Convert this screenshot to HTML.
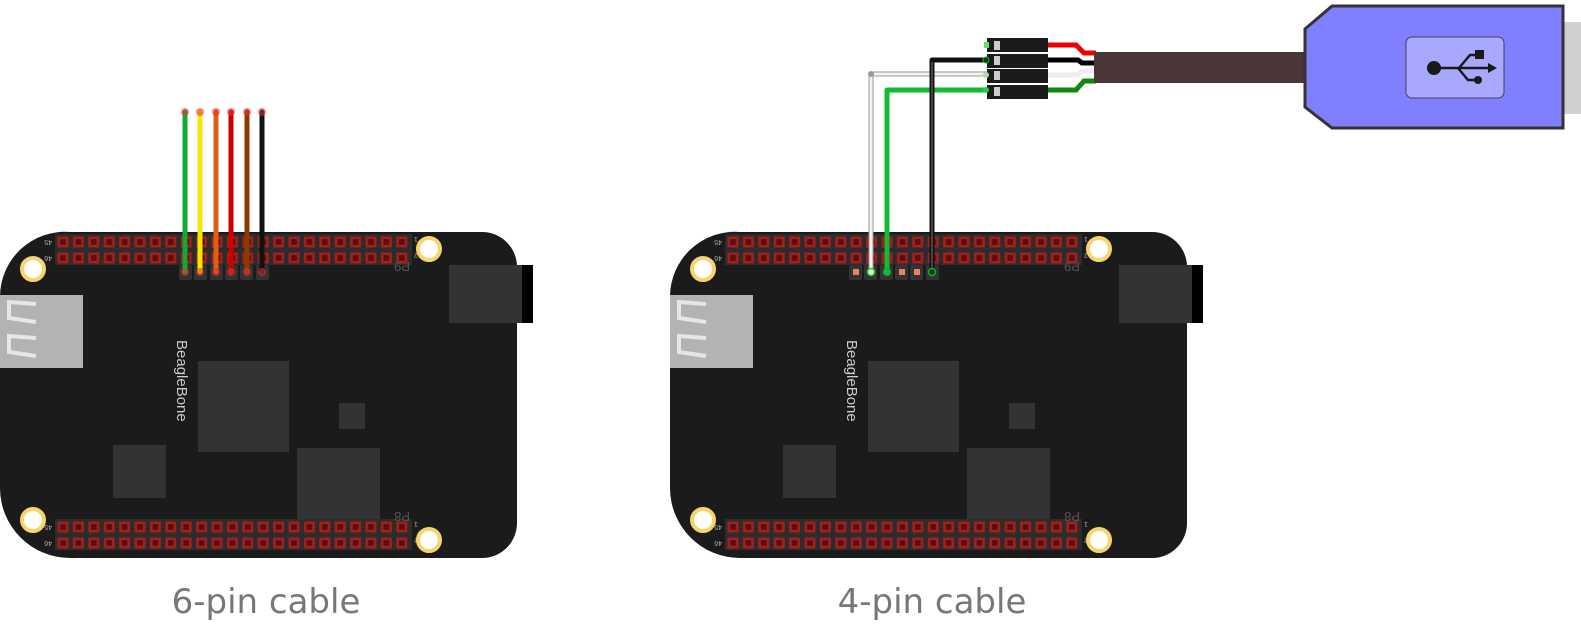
<!DOCTYPE html>
<html><head><meta charset="utf-8"><style>
html,body{margin:0;padding:0;background:#fff;width:1581px;height:641px;overflow:hidden}
svg{display:block}
</style></head><body>
<svg width="1581" height="641" viewBox="0 0 1581 641" xmlns="http://www.w3.org/2000/svg">
<defs>
<g id="pin"><rect x="-5.5" y="-5.5" width="11" height="11" fill="#a02020"/><rect x="-2.8" y="-2.8" width="5.6" height="5.6" fill="#5a0e0e"/></g>
<g id="row">
  <use href="#pin" x="63"/><use href="#pin" x="78.4"/><use href="#pin" x="93.8"/><use href="#pin" x="109.2"/><use href="#pin" x="124.6"/><use href="#pin" x="140"/><use href="#pin" x="155.4"/><use href="#pin" x="170.8"/><use href="#pin" x="186.2"/><use href="#pin" x="201.6"/><use href="#pin" x="217"/><use href="#pin" x="232.4"/><use href="#pin" x="247.8"/><use href="#pin" x="263.2"/><use href="#pin" x="278.6"/><use href="#pin" x="294"/><use href="#pin" x="309.4"/><use href="#pin" x="324.8"/><use href="#pin" x="340.2"/><use href="#pin" x="355.6"/><use href="#pin" x="371"/><use href="#pin" x="386.4"/><use href="#pin" x="401.8"/>
</g>
<g id="board">
  <rect x="522" y="265" width="11" height="58" fill="#000"/>
  <path d="M70,232 H482 A35,35 0 0 1 517,267 V523 A35,35 0 0 1 482,558 H70 A70,70 0 0 1 0,488 V297 A65,65 0 0 1 70,232 Z" fill="#1b1b1b"/>
  <rect x="449" y="265" width="73" height="58" fill="#333"/>
  <rect x="0" y="295" width="83" height="73" fill="#b3b3b3"/>
  <path d="M36,304 L9,302 L9,318 L36,322" fill="none" stroke="#e6e6e6" stroke-width="4"/>
  <path d="M36,338 L9,336 L9,352 L36,356" fill="none" stroke="#e6e6e6" stroke-width="4"/>
  <rect x="198" y="361" width="91" height="91" fill="#333"/>
  <rect x="339" y="403" width="26" height="26" fill="#333"/>
  <rect x="113" y="445" width="53" height="53" fill="#333"/>
  <rect x="297" y="448" width="83" height="71" fill="#333"/>
  <text transform="translate(177,340) rotate(90)" font-family="Liberation Sans, sans-serif" font-size="15" fill="#ccc">BeagleBone</text>
  <rect x="55" y="234" width="357" height="31" fill="#2c2c2c"/>
  <rect x="55" y="519" width="357" height="31" fill="#2c2c2c"/>
  <use href="#row" y="242"/><use href="#row" y="258"/>
  <use href="#row" y="527"/><use href="#row" y="543"/>
  <g font-family="Liberation Sans, sans-serif" font-size="7" fill="#aaa">
    <text transform="translate(52,240) rotate(180)">45</text>
    <text transform="translate(52,256) rotate(180)">46</text>
    <text transform="translate(52,525) rotate(180)">45</text>
    <text transform="translate(52,541) rotate(180)">46</text>
    <text transform="translate(414,237) rotate(180)" text-anchor="end">1</text>
    <text transform="translate(414,253) rotate(180)" text-anchor="end">2</text>
    <text transform="translate(414,522) rotate(180)" text-anchor="end">1</text>
    <text transform="translate(414,538) rotate(180)" text-anchor="end">2</text>
  </g>
  <text transform="translate(410,262) rotate(180)" font-family="Liberation Sans, sans-serif" font-size="13" fill="#555">P9</text>
  <text transform="translate(410,512) rotate(180)" font-family="Liberation Sans, sans-serif" font-size="13" fill="#555">P8</text>
  <g fill="#fff" stroke="#f7d56c" stroke-width="4">
    <circle cx="33" cy="269" r="11"/><circle cx="429" cy="249" r="11"/>
    <circle cx="33" cy="520" r="11"/><circle cx="429" cy="540" r="11"/>
  </g>
  <g fill="#333"><rect x="179" y="265" width="13" height="15" rx="2"/><rect x="194" y="265" width="13" height="15" rx="2"/><rect x="210" y="265" width="13" height="15" rx="2"/><rect x="225" y="265" width="13" height="15" rx="2"/><rect x="240" y="265" width="13" height="15" rx="2"/><rect x="256" y="265" width="13" height="15" rx="2"/></g>
</g>
</defs>

<use href="#board"/>
<use href="#board" x="670"/>

<g stroke-width="5" stroke-linecap="round">
  <line x1="185" y1="112" x2="185" y2="272" stroke="#11aa33"/>
  <line x1="200" y1="112" x2="200" y2="272" stroke="#f4e800"/>
  <line x1="216" y1="112" x2="216" y2="272" stroke="#e06010"/>
  <line x1="231" y1="112" x2="231" y2="272" stroke="#cc0000"/>
  <line x1="247" y1="112" x2="247" y2="272" stroke="#8b3a00"/>
  <line x1="262" y1="112" x2="262" y2="272" stroke="#111"/>
</g>
<g fill="#e83030" opacity="0.55">
  <circle cx="185" cy="112" r="4"/><circle cx="200" cy="112" r="4"/><circle cx="216" cy="112" r="4"/><circle cx="231" cy="112" r="4"/><circle cx="247" cy="112" r="4"/><circle cx="262" cy="112" r="4"/>
  <circle cx="185" cy="272" r="4"/><circle cx="200" cy="272" r="4"/><circle cx="216" cy="272" r="4"/><circle cx="231" cy="272" r="4"/><circle cx="247" cy="272" r="4"/><circle cx="262" cy="272" r="4"/>
</g>

<rect x="853" y="269" width="6" height="6" fill="#f08060"/>
<rect x="899" y="269" width="6" height="6" fill="#f08060"/>
<rect x="914" y="269" width="6" height="6" fill="#f08060"/>

<g fill="none" stroke-linejoin="round">
  <path d="M871,272 V74 H987" stroke="#999" stroke-width="5"/>
  <path d="M871,272 V74 H987" stroke="#f2f2f2" stroke-width="3"/>
  <path d="M887,272 V90 H987" stroke="#11bb33" stroke-width="5"/>
  <path d="M932,272 V60 H987" stroke="#111" stroke-width="5"/>
  <path d="M932,272 V62" stroke="#444" stroke-width="2"/>
</g>
<circle cx="871" cy="74" r="3" fill="#999"/>
<circle cx="871" cy="272" r="3.5" fill="#cfc" stroke="#3c3" stroke-width="1.5"/>
<circle cx="887" cy="272" r="3.5" fill="#1b3" stroke="#1a3" stroke-width="1"/>
<circle cx="932" cy="272" r="3.5" fill="#040" stroke="#1a3" stroke-width="1.5"/>

<g fill="none" stroke-width="5">
  <path d="M1046,45 H1076 L1084,53 H1096" stroke="#ee0000"/>
  <path d="M1046,60 H1078 L1082,63 H1096" stroke="#000"/>
  <path d="M1046,75 H1078 L1082,71 H1096" stroke="#eee"/>
  <path d="M1046,90 H1076 L1084,81 H1096" stroke="#118811"/>
</g>
<g>
  <rect x="987" y="38" width="61" height="14" fill="#1b1b1b"/>
  <rect x="987" y="54" width="61" height="14" fill="#1b1b1b"/>
  <rect x="987" y="69" width="61" height="14" fill="#1b1b1b"/>
  <rect x="987" y="85" width="61" height="14" fill="#1b1b1b"/>
  <g fill="#ccc"><rect x="994" y="41" width="6" height="9"/><rect x="994" y="56" width="6" height="9"/><rect x="994" y="71" width="6" height="9"/><rect x="994" y="87" width="6" height="9"/></g>
  <rect x="984" y="42" width="5" height="6" fill="#6d6"/>
  <circle cx="986" cy="60" r="3" fill="#040" stroke="#2a2" stroke-width="1"/>
  <circle cx="986" cy="75" r="3" fill="#ada"/>
  <circle cx="986" cy="90" r="3" fill="#2c4"/>
</g>
<rect x="1094" y="52" width="216" height="31" fill="#4a3636"/>
<rect x="1562" y="22" width="19" height="92" fill="#cfcfcf"/>
<path d="M1305,29 L1332,6 H1563 V128 H1332 L1305,107 Z" fill="#7f7fff" stroke="#333" stroke-width="3"/>
<rect x="1406" y="37" width="98" height="61" rx="6" fill="#a8a8ff" stroke="#444" stroke-width="1"/>
<g fill="#1a1a1a" stroke="#1a1a1a">
  <circle cx="1434" cy="68" r="7" stroke="none"/>
  <line x1="1434" y1="68" x2="1490" y2="68" stroke-width="2.5"/>
  <path d="M1459,68 L1470,55 H1478" fill="none" stroke-width="2.5"/>
  <rect x="1475" y="50" width="9" height="9" stroke="none"/>
  <path d="M1458,68 L1468,80 H1478" fill="none" stroke-width="2.5"/>
  <circle cx="1478" cy="80" r="4" stroke="none"/>
  <path d="M1488,63 L1497,68 L1488,73 Z" stroke="none"/>
</g>

<g font-family="DejaVu Sans, Liberation Sans, sans-serif" font-size="34" fill="#777" text-anchor="middle">
  <text x="266" y="613">6-pin cable</text>
  <text x="932" y="613">4-pin cable</text>
</g>
</svg>
</body></html>
